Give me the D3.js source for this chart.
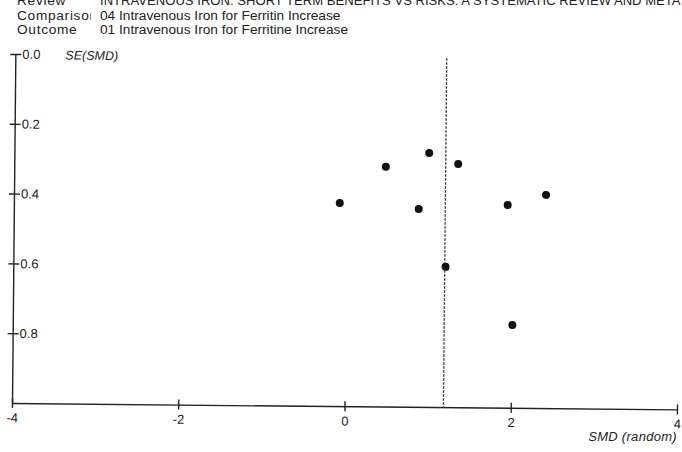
<!DOCTYPE html>
<html>
<head>
<meta charset="utf-8">
<script src="https://cdn.jsdelivr.net/npm/d3@7"></script>
<style>
  body { margin: 0; background: #fff; }
  text { font-family: "Liberation Sans", Arial, sans-serif; fill: #222; }
  .axis path, .axis line { stroke: #222; stroke-width: 1.4; }
</style>
</head>
<body>
<div id="funnel"></div>
<script>
// header rows (label, value)
var headerLabels = ["Review", "Comparison", "Outcome"];
var headerValues = ["INTRAVENOUS IRON: SHORT TERM BENEFITS VS RISKS: A SYSTEMATIC REVIEW AND META",
                    "04 Intravenous Iron for Ferritin Increase",
                    "01 Intravenous Iron for Ferritine Increase"];

// studies: SMD (random) and its standard error
var smd = [-0.08, 0.47, 0.99, 1.34, 0.87, 1.94, 2.40, 1.20, 2.01];
var se  = [0.418, 0.313, 0.272, 0.303, 0.433, 0.419, 0.389, 0.598, 0.763];
var pooledSMD = 1.19;

var xTicks = [-4, -2, 0, 2, 4];
var yTicks = [0, 0.2, 0.4, 0.6, 0.8];

var W = 682, H = 452;
var corner = {x: 12, y: 403};   // bottom-left of the plot
var width = 665, height = 349;
var tilt = 0.55;                // the scanned page is slightly rotated

var svg = d3.select("#funnel")
    .append("svg")
    .attr("width", W)
    .attr("height", H);

svg.append("rect").attr("width", W).attr("height", H).attr("fill", "#fff");

var defs = svg.append("defs");
defs.append("clipPath").attr("id", "labelClip")
    .append("rect").attr("x", 0).attr("y", 0).attr("width", 91).attr("height", 60);
defs.append("clipPath").attr("id", "xlabClip")
    .append("rect").attr("x", 589).attr("y", 420).attr("width", 100).attr("height", 40);

// header
var header = svg.append("g");
header.selectAll(".hlab")
    .data(headerLabels)
    .enter().append("text")
    .attr("class", "hlab")
    .attr("x", 17)
    .attr("y", function(d, i) { return 5 + i * 14.7; })
    .attr("clip-path", "url(#labelClip)")
    .style("font-size", "13.7px")
    .style("letter-spacing", "0.7px")
    .text(function(d) { return d; });

header.selectAll(".hval")
    .data(headerValues)
    .enter().append("text")
    .attr("class", "hval")
    .attr("x", 100)
    .attr("y", function(d, i) { return 5 + i * 14.7; })
    .style("font-size", function(d, i) { return i == 0 ? "13.1px" : "13.7px"; })
    .text(function(d) { return d; });

var x = d3.scaleLinear().domain([-4, 4]).range([0, width]);
var y = d3.scaleLinear().domain([0, 1]).range([-height, 0]);

var plot = svg.append("g")
    .attr("transform", "translate(" + corner.x + "," + corner.y + ") rotate(" + tilt + ")");

// Y axis, ticks across the line, labels inside
var yAxis = d3.axisRight(y)
    .tickValues(yTicks)
    .tickSize(6)
    .tickSizeOuter(0)
    .tickPadding(1)
    .tickFormat(d3.format(".1f"));

var gy = plot.append("g").attr("class", "axis").call(yAxis);
gy.selectAll(".tick line").attr("x1", -5).attr("x2", 6);
gy.selectAll(".tick text").style("font-size", "13px").attr("fill", "#222");

// X axis
var xAxis = d3.axisBottom(x)
    .tickValues(xTicks)
    .tickSize(5)
    .tickSizeOuter(0)
    .tickPadding(5)
    .tickFormat(function(d) { return String(d); });

var gx = plot.append("g").attr("class", "axis").call(xAxis);
gx.selectAll(".tick line").attr("y1", -5).attr("y2", 5);
gx.selectAll(".tick text").style("font-size", "13px").attr("fill", "#222");

plot.append("text")
    .attr("x", 50)
    .attr("y", y(0) + 5)
    .style("font-size", "12.5px")
    .style("font-style", "italic")
    .text("SE(SMD)");

// pooled estimate
plot.append("line")
    .attr("x1", x(pooledSMD)).attr("x2", x(pooledSMD))
    .attr("y1", y(0)).attr("y2", y(1))
    .attr("stroke", "#333")
    .attr("stroke-width", 1.3)
    .attr("stroke-dasharray", "2.5,1.5");

// studies
plot.selectAll(".dot")
    .data(smd)
    .enter().append("circle")
    .attr("class", "dot")
    .attr("cx", function(d) { return x(d); })
    .attr("cy", function(d, i) { return y(se[i]); })
    .attr("r", 4)
    .attr("fill", "#111");

svg.append("text")
    .attr("x", 677)
    .attr("y", 441)
    .attr("text-anchor", "end")
    .attr("clip-path", "url(#xlabClip)")
    .style("font-size", "13px")
    .style("font-style", "italic")
    .style("letter-spacing", "0.3px")
    .text("SMD (random)");
</script>
</body>
</html>
